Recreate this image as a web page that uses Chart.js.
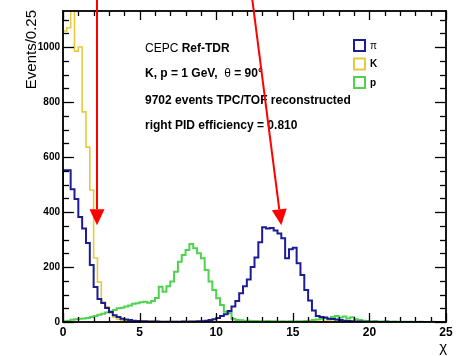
<!DOCTYPE html>
<html>
<head>
<meta charset="utf-8">
<script src="https://cdn.jsdelivr.net/npm/chart.js@4/dist/chart.umd.min.js"></script>
<style>
html,body{margin:0;padding:0;background:#fff;}
canvas{display:block;}
</style>
</head>
<body>
<canvas id="c" width="461" height="356"></canvas>
<script>
// ---------------- data (events per 0.25 bin of chi, 0..25) ----------------
const binWidth = 0.25;
const xTicks = [0, 5, 10, 15, 20, 25];
const yTicks = [0, 200, 400, 600, 800, 1000];
const seriesLabels = ['\u03C0', 'K', 'p'];

const pionCounts = [
  527,552,552,483,447,382,340,287,207,127,
  84,69,51,36,25,18,12,9,7,5,
  4,3,3,2,2,2,1,1,1,1,
  1,1,2,1,2,2,3,3,5,7,
  10,15,22,28,40,56,76,105,130,155,
  200,235,290,345,340,342,333,322,305,232,
  265,270,214,171,116,78,42,22,18,16,
  12,11,9,7,5,4,3,2,2,1,
  1,0,1,0,0,1,0,0,0,0,
  0,0,0,0,0,0,0,0,0,0];

const kaonCounts = [
  960,1058,1070,1260,985,1000,764,636,480,233,
  145,73,55,33,18,10,6,4,3,3,
  2,3,2,2,3,2,2,1,2,2,
  2,1,2,1,2,2,1,2,1,2,
  1,2,1,1,1,0,1,0,1,0,
  0,1,0,0,1,0,0,0,1,0,
  0,0,1,0,0,1,1,2,2,3,
  4,3,5,4,3,4,2,1,1,0,
  0,1,0,0,0,0,1,0,0,0,
  0,0,0,0,0,0,0,0,0,0];

const protonCounts = [
  2,3,5,8,10,12,13,15,18,22,
  26,30,35,38,44,50,52,56,60,66,
  68,72,74,70,76,87,128,110,130,147,
  183,219,244,262,284,268,250,232,189,147,
  116,86,62,37,33,12,7,6,5,5,
  4,4,3,3,4,3,3,2,3,2,
  3,2,3,3,4,5,7,9,12,15,
  11,18,22,16,20,13,17,10,7,5,
  4,3,3,2,2,2,1,2,1,1,
  1,1,1,0,1,0,0,1,0,0];

const infoLines = [
  [['CEPC ', false], ['Ref-TDR', true]],
  [['K, p = 1 GeV,  ', true], ['\u03B8', false], [' = 90\u00B0', true]],
  [['9702 events TPC/TOF reconstructed', true]],
  [['right PID efficiency = 0.810', true]]
];

// arrows: [x start, y start, x tip, y tip] in data units
const arrows = [
  [2.22, 1175, 2.22, 352],
  [12.35, 1175, 14.25, 352]
];

const xMin = 0, xMax = 25, yMin = 0, yMax = 1131;

// ---------------- styling ----------------
const colors = ['#1c1c96', '#e3cc3c', '#4fd24f'];
const widths = [2, 1.6, 2];
const FONT = '"Liberation Sans", Arial, sans-serif';

function stepPoints(counts) {
  const pts = [{x: 0, y: 0}];
  counts.forEach((c, i) => pts.push({x: i * binWidth, y: c}));
  pts.push({x: counts.length * binWidth, y: counts[counts.length - 1]});
  return pts;
}

const allCounts = [pionCounts, kaonCounts, protonCounts];
const order = [1, 2, 0];
const datasets = order.map(i => ({
  label: seriesLabels[i],
  data: stepPoints(allCounts[i]),
  borderColor: colors[i],
  borderWidth: widths[i],
  backgroundColor: 'transparent',
  fill: false,
  stepped: 'after',
  pointRadius: 0,
  tension: 0,
  order: i
}));

function drawLine(ctx, x1, y1, x2, y2) {
  ctx.beginPath(); ctx.moveTo(x1, y1); ctx.lineTo(x2, y2); ctx.stroke();
}

const deco = {
  id: 'deco',
  afterDatasetsDraw(chart) {
    const ctx = chart.ctx, a = chart.chartArea;
    const xs = chart.scales.x, ys = chart.scales.y;
    ctx.save();
    ctx.strokeStyle = '#000';
    ctx.lineWidth = 1.3;
    for (let v = 0; v <= yMax; v += 50) {
      const py = Math.round(ys.getPixelForValue(v)) + 0.5;
      const len = (v % 200 === 0) ? 11 : 6;
      drawLine(ctx, a.left, py, a.left + len, py);
      drawLine(ctx, a.right, py, a.right - len, py);
    }
    for (let v = xMin; v <= xMax; v += 1) {
      const px = Math.round(xs.getPixelForValue(v)) + 0.5;
      const len = (v % 5 === 0) ? 9 : 5;
      drawLine(ctx, px, a.bottom, px, a.bottom - len);
      drawLine(ctx, px, a.top, px, a.top + len);
    }
    ctx.lineWidth = 1.8;
    ctx.strokeRect(a.left, a.top, a.right - a.left, a.bottom - a.top);

    // axis titles
    ctx.fillStyle = '#000';
    ctx.font = '15px ' + FONT;
    ctx.save();
    ctx.translate(36, a.top - 1);
    ctx.rotate(-Math.PI / 2);
    ctx.textAlign = 'right';
    ctx.textBaseline = 'alphabetic';
    ctx.fillText('Events/0.25', 0, 0);
    ctx.restore();
    ctx.font = '15px ' + FONT;
    ctx.textAlign = 'right';
    ctx.textBaseline = 'alphabetic';
    ctx.fillText('\u03C7', a.right + 1, 352);

    // info text
    ctx.textAlign = 'left';
    const baselines = [52, 77, 104, 129];
    infoLines.forEach((parts, li) => {
      let tx = 145;
      parts.forEach(([txt, bold]) => {
        ctx.font = (bold ? 'bold ' : '') + '12px ' + FONT;
        ctx.fillText(txt, tx, baselines[li]);
        tx += ctx.measureText(txt).width;
      });
    });

    // legend
    [0, 1, 2].forEach((i, k) => {
      const by = 40 + k * 18.5;
      ctx.strokeStyle = colors[i];
      ctx.lineWidth = 2;
      ctx.strokeRect(354, by, 11, 11);
      ctx.fillStyle = '#000';
      ctx.font = (i === 0 ? '' : 'bold ') + '10px ' + FONT;
      ctx.textBaseline = 'middle';
      ctx.fillText(seriesLabels[i], 370, by + 6);
    });
    ctx.textBaseline = 'alphabetic';

    // red arrows
    ctx.strokeStyle = '#ff0000';
    ctx.fillStyle = '#ff0000';
    ctx.lineWidth = 2;
    arrows.forEach(([x0, y0, x1, y1]) => {
      const p0x = xs.getPixelForValue(x0), p0y = ys.getPixelForValue(y0);
      const p1x = xs.getPixelForValue(x1), p1y = ys.getPixelForValue(y1);
      const dx = p1x - p0x, dy = p1y - p0y, L = Math.hypot(dx, dy);
      const ux = dx / L, uy = dy / L;
      const head = 16, half = 7.5;
      const bx = p1x - ux * head, by = p1y - uy * head;
      drawLine(ctx, p0x, p0y, bx, by);
      ctx.beginPath();
      ctx.moveTo(p1x, p1y);
      ctx.lineTo(bx - uy * half, by + ux * half);
      ctx.lineTo(bx + uy * half, by - ux * half);
      ctx.closePath();
      ctx.fill();
    });
    ctx.restore();
  }
};

new Chart(document.getElementById('c'), {
  type: 'line',
  data: { datasets },
  options: {
    responsive: false,
    animation: false,
    devicePixelRatio: 1,
    layout: { padding: { left: 0, right: 15, top: 11, bottom: 0 } },
    plugins: { legend: { display: false }, tooltip: { enabled: false } },
    scales: {
      x: {
        type: 'linear', min: xMin, max: xMax,
        afterBuildTicks: s => { s.ticks = xTicks.map(v => ({ value: v })); },
        afterFit: s => { s.height = 34; },
        grid: { display: false, drawTicks: false },
        border: { display: false },
        ticks: {
          color: '#000', padding: 3, maxRotation: 0, autoSkip: false,
          callback: v => String(v),
          font: { family: FONT, size: 12, weight: 'bold' }
        }
      },
      y: {
        type: 'linear', min: yMin, max: yMax,
        afterBuildTicks: s => { s.ticks = yTicks.map(v => ({ value: v })); },
        afterFit: s => { s.width = 63; },
        grid: { display: false, drawTicks: false },
        border: { display: false },
        ticks: {
          color: '#000', padding: 3,
          callback: v => String(v),
          font: { family: FONT, size: 10, weight: 'bold' }
        }
      }
    }
  },
  plugins: [deco]
});
</script>
</body>
</html>
